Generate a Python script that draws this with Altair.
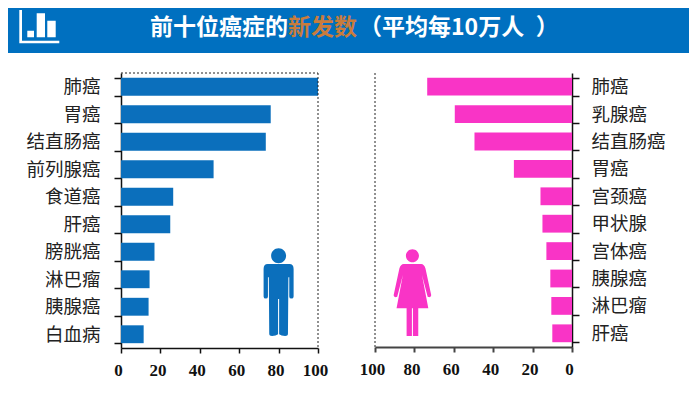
import altair as alt
import pandas as pd

male_labels = ["肺癌", "胃癌", "结直肠癌", "前列腺癌", "食道癌", "肝癌", "膀胱癌", "淋巴瘤", "胰腺癌", "白血病"]
male_values = [100, 76, 73.5, 47, 26.5, 25, 17, 14.5, 14, 11.5]
female_labels = ["肺癌", "乳腺癌", "结直肠癌", "胃癌", "宫颈癌", "甲状腺", "宫体癌", "胰腺癌", "淋巴瘤", "肝癌"]
female_values = [73.5, 59.5, 49.5, 29.5, 16, 15, 13, 11, 10.5, 10]
title_parts = ["前十位癌症的", "新发数", "\uff08平均每10万人\u2002\uff09"]
title_x = [142, 280, 351]
title_colors = ["#ffffff", "#c97c3c", "#ffffff"]

BLUE = "#0b6fbc"
PINK = "#f934c6"
BANNER = "#0070c0"
CJK = "Noto Sans CJK SC"
SERIF = "Liberation Serif"
AXW = 113
BANNER_W = 681


def head(r):
    k = 0.5523 * r
    c = -0.846
    return (
        f"M{-r} {c}C{-r} {c - k} {-k} {c - r} 0 {c - r}C{k} {c - r} {r} {c - k} {r} {c}"
        f"C{r} {c + k} {k} {c + r} 0 {c + r}C{-k} {c + r} {-r} {c + k} {-r} {c}Z"
    )


MAN = head(0.172) + (
    "M-0.25 -0.655L0.25 -0.655Q0.345 -0.655 0.345 -0.54L0.345 0.09Q0.345 0.14 0.295 0.14"
    "Q0.245 0.14 0.245 0.09L0.245 -0.35L0.225 -0.35L0.215 0.95Q0.215 1 0.15 1Q0.06 1 0.012 0.96"
    "L0.012 0.15L-0.012 0.15L-0.012 0.96Q-0.06 1 -0.15 1Q-0.215 1 -0.215 0.95L-0.225 -0.35"
    "L-0.245 -0.35L-0.245 0.09Q-0.245 0.14 -0.295 0.14Q-0.345 0.14 -0.345 0.09L-0.345 -0.54"
    "Q-0.345 -0.655 -0.25 -0.655Z"
)
WOMAN = head(0.15) + (
    "M-0.2 -0.655L0.2 -0.655Q0.27 -0.655 0.3 -0.55L0.43 0.05Q0.44 0.1 0.39 0.11L0.35 0.1"
    "L0.22 -0.4L0.365 0.36L0.134 0.36L0.134 1L0.012 1L0.012 0.36L-0.012 0.36L-0.012 1L-0.134 1"
    "L-0.134 0.36L-0.365 0.36L-0.22 -0.4L-0.35 0.1L-0.39 0.11Q-0.44 0.1 -0.43 0.05L-0.3 -0.55"
    "Q-0.27 -0.655 -0.2 -0.655Z"
)
ICON = (
    "M-1.01 -0.825L-0.875 -0.825L-0.875 0.71L0.99 0.71L0.99 0.84L-1.01 0.84Z"
    "M-0.61 0.21L-0.275 0.21L-0.275 0.54L-0.61 0.54Z"
    "M-0.14 -0.66L0.275 -0.66L0.275 0.54L-0.14 0.54Z"
    "M0.39 -0.29L0.81 -0.29L0.81 0.54L0.39 0.54Z"
)

one = alt.Data(values=[{}])
W = 197
H = 275

banner = alt.layer(
    alt.Chart(one).mark_rect(color=BANNER).encode(
        x=alt.value(-AXW), x2=alt.value(BANNER_W - AXW), y=alt.value(0), y2=alt.value(45)
    ),
    alt.Chart(one).mark_point(shape=ICON, filled=True, fill="#ffffff", stroke=None, opacity=1, size=1600).encode(
        x=alt.value(31.5 - AXW), y=alt.value(18.5)
    ),
    *[
        alt.Chart(pd.DataFrame({"t": [t]})).mark_text(
            font=CJK, fontSize=23, fontWeight="bold", color=c, align="left", baseline="middle"
        ).encode(text="t:N", x=alt.value(x0 - AXW), y=alt.value(20))
        for t, x0, c in zip(title_parts, title_x, title_colors)
    ],
).properties(width=BANNER_W - AXW, height=45)


def x_axis(color, width):
    return alt.Axis(
        tickCount=6, title=None, grid=False, tickSize=5, labelFont=SERIF, labelFontSize=17, labelFontWeight="bold",
        labelColor="#111111", labelPadding=9, labelFlush=False, labelOffset=-3,
        tickColor=color, tickWidth=width, domainColor=color, domainWidth=width,
    )


def y_axis(orient, pad):
    return alt.Axis(
        orient=orient, title=None, grid=False, tickBand="extent", tickSize=7, tickColor="#111111",
        tickWidth=1.5, domainColor="#111111", domainWidth=1.5, labelFont=CJK, labelFontSize=18.5,
        labelColor="#222222", labelPadding=pad, minExtent=AXW if orient == "left" else 90,
        maxExtent=AXW if orient == "left" else 90, labelOverlap=False,
    )


male_df = pd.DataFrame({"c": male_labels, "v": male_values})
female_df = pd.DataFrame({"c": female_labels, "v": female_values})

left = alt.layer(
    alt.Chart(male_df).mark_bar(color=BLUE, opacity=1).encode(
        x=alt.X("v:Q", scale=alt.Scale(domain=[0, 100], nice=False), axis=x_axis("#111111", 1.5)),
        y=alt.Y("c:N", sort=male_labels, scale=alt.Scale(paddingInner=0.35, paddingOuter=0.175), axis=y_axis("left", 14)),
    ),
    alt.Chart(one).mark_rule(color="#222222", strokeDash=[2, 2], strokeWidth=1).encode(x=alt.datum(100)),
    alt.Chart(one).mark_rule(color="#222222", strokeDash=[2, 2], strokeWidth=1).encode(
        x=alt.value(0), x2=alt.value(W), y=alt.value(0)
    ),
    alt.Chart(one).mark_point(shape=MAN, filled=True, fill=BLUE, stroke=None, opacity=1, size=7569).encode(
        x=alt.datum(80), y=alt.value(219.5)
    ),
).properties(width=W, height=H)

right = alt.layer(
    alt.Chart(female_df).mark_bar(color=PINK, opacity=1).encode(
        x=alt.X("v:Q", scale=alt.Scale(domain=[100, 0], nice=False), axis=x_axis("#444444", 2)),
        y=alt.Y("c:N", sort=female_labels, scale=alt.Scale(paddingInner=0.35, paddingOuter=0.175), axis=y_axis("right", 12)),
    ),
    alt.Chart(one).mark_rule(color="#222222", strokeDash=[2, 2], strokeWidth=1).encode(x=alt.datum(100)),
    alt.Chart(one).mark_point(shape=WOMAN, filled=True, fill=PINK, stroke=None, opacity=1, size=7569).encode(
        x=alt.datum(81), y=alt.value(219.5)
    ),
).properties(width=W, height=H - 1)

chart = alt.vconcat(
    banner,
    alt.hconcat(left, right, spacing=31),
    spacing=11,
).properties(padding=0, background="#ffffff").configure_view(stroke=None)

chart.save("out.html", embed_options={"renderer": "svg", "actions": False})
